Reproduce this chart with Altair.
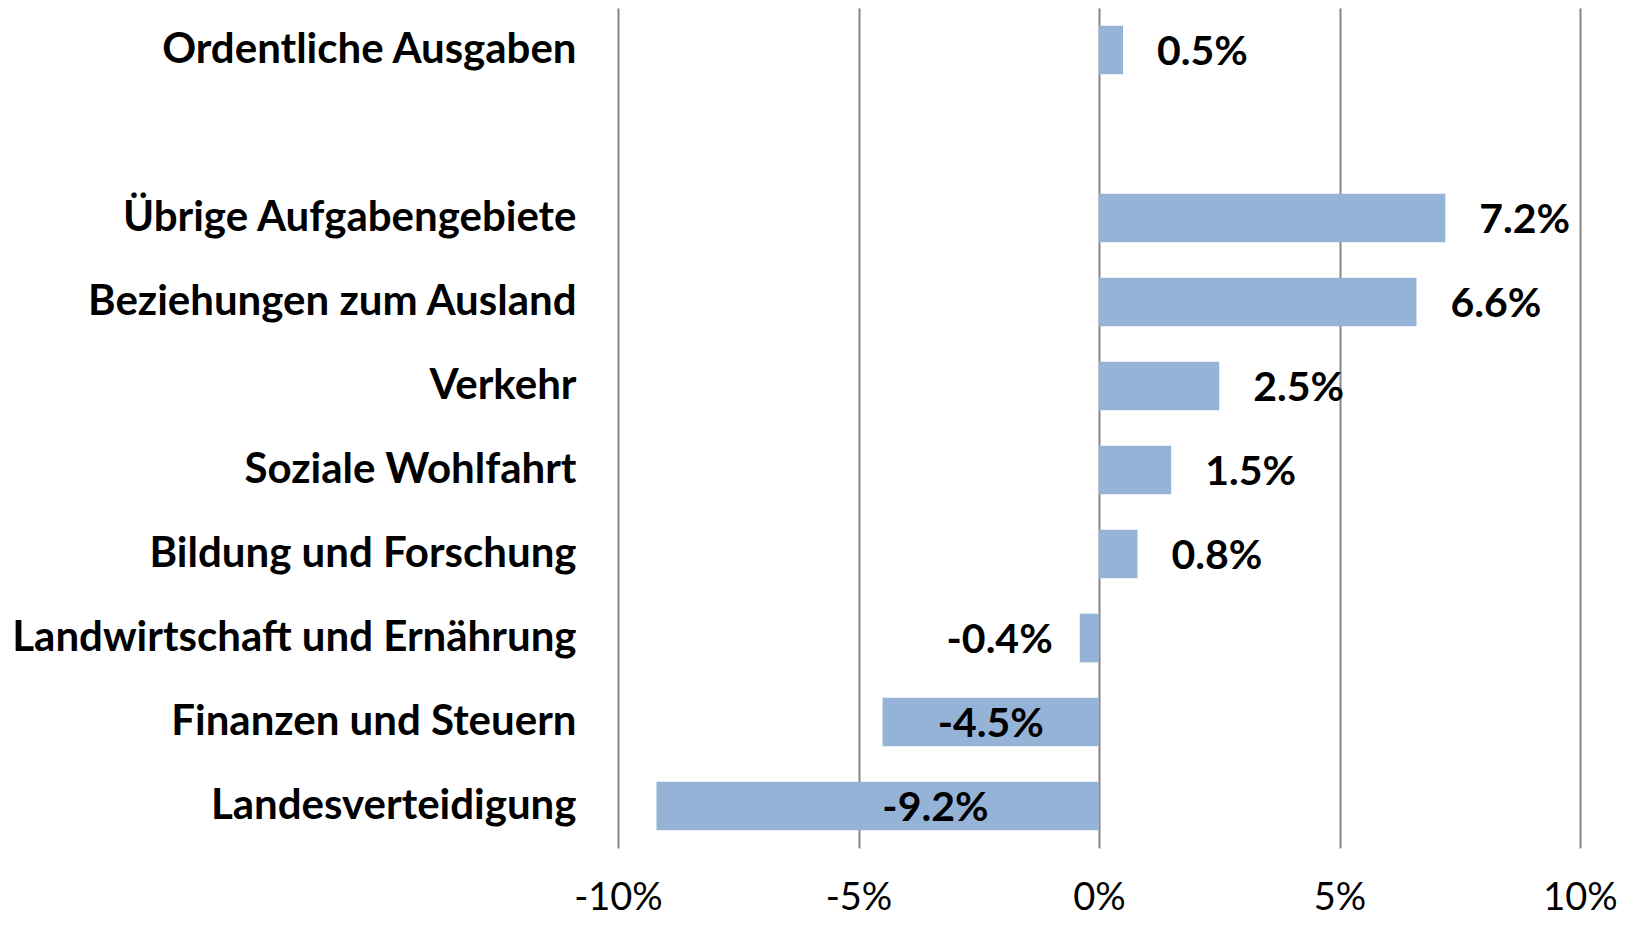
import altair as alt
import pandas as pd

categories = [
    "Ordentliche Ausgaben",
    "Übrige Aufgabengebiete",
    "Beziehungen zum Ausland",
    "Verkehr",
    "Soziale Wohlfahrt",
    "Bildung und Forschung",
    "Landwirtschaft und Ernährung",
    "Finanzen und Steuern",
    "Landesverteidigung",
]
values = [0.5, 7.2, 6.6, 2.5, 1.5, 0.8, -0.4, -4.5, -9.2]
axis_order = [categories[0], " "] + categories[1:]
tick_values = [-10, -5, 0, 5, 10]

df = pd.DataFrame({"cat": categories, "val": values})
df["label"] = [f"{v:.1f}%" for v in values]

FONT = "Lato"

y = alt.Y(
    "cat:N",
    scale=alt.Scale(domain=axis_order, paddingInner=0.42, paddingOuter=0.21),
    axis=alt.Axis(
        title=None, domain=False, ticks=False, grid=False,
        labelFont=FONT, labelFontWeight="bold", labelFontSize=42,
        labelColor="black", labelPadding=42, labelLimit=800,
    ),
)
x_axis = alt.Axis(
    values=tick_values, labelExpr="datum.value + '%'", title=None,
    domain=False, ticks=False, grid=True, gridColor="#868686", gridWidth=2,
    labelFont=FONT, labelFontSize=38, labelColor="black", labelPadding=31,
    labelFlush=False, labelOverlap=False,
)
x_scale = alt.Scale(domain=[-10, 10], nice=False)

base = alt.Chart(df)

bars = base.mark_bar(color="#95B3D7").encode(
    x=alt.X("val:Q", scale=x_scale, axis=x_axis),
    y=y,
)

text_style = dict(font=FONT, fontWeight="bold", fontSize=41, color="black", dy=3)

pos_text = base.transform_filter("datum.val >= 0").mark_text(
    align="left", dx=34, **text_style
).encode(x=alt.X("val:Q", scale=x_scale, axis=x_axis), y=y, text="label:N")

small_neg_text = base.transform_filter("datum.val < 0 && datum.val > -1").mark_text(
    align="right", dx=-27, **text_style
).encode(x=alt.X("val:Q", scale=x_scale, axis=x_axis), y=y, text="label:N")

big_neg_text = base.transform_filter("datum.val <= -1").transform_calculate(
    mid="max(datum.val / 2, -3.4)"
).mark_text(align="center", **text_style).encode(
    x=alt.X("mid:Q", scale=x_scale, axis=x_axis), y=y, text="label:N"
)

chart = (
    alt.layer(bars, pos_text, small_neg_text, big_neg_text)
    .properties(
        width=962,
        height=840,
        background="white",
        autosize=alt.AutoSizeParams(type="none"),
        padding={"left": 610, "top": 0, "right": 42, "bottom": 70},
    )
    .configure_view(stroke=None)
)

chart.save("out.html", embed_options={"renderer": "svg", "actions": False})
